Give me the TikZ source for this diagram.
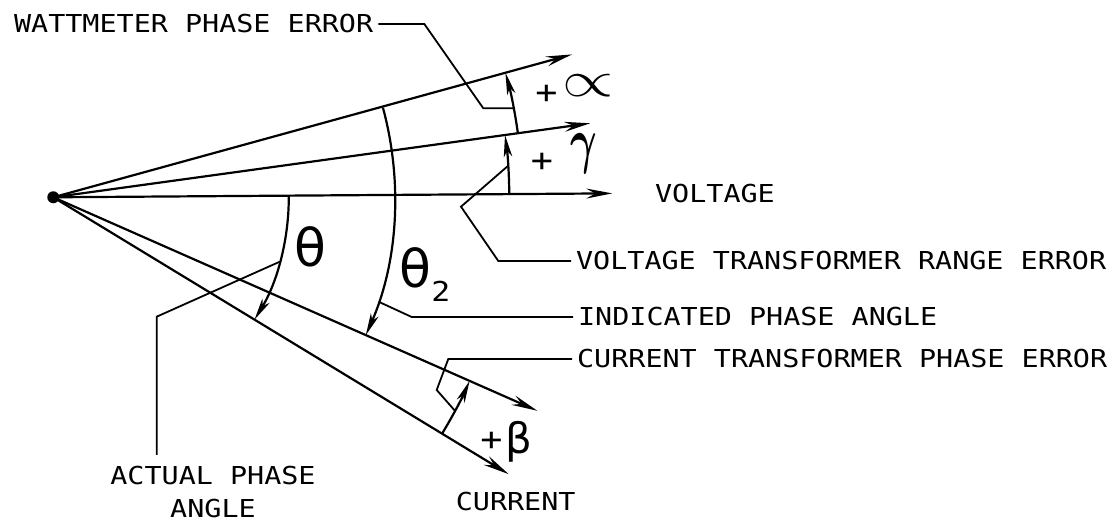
\documentclass[tikz,border=0pt]{standalone}
\usepackage{fontspec}
\usetikzlibrary{arrows.meta,calc}
\newfontfamily\plotfont[FakeStretch=1.15]{DejaVu Sans Mono}
\newfontfamily\greekfont{DejaVu Sans}

\begin{document}
\begin{tikzpicture}[x=0.5pt,y=0.5pt,line width=1.1pt,
    font=\plotfont\fontsize{12.35}{16.5}\selectfont,
    phasor/.style={-{Stealth[length=13pt,width=5pt,inset=4.5pt]}},
    anglearc/.style={-{Stealth[length=11pt,width=4.2pt,inset=3pt]}},
    leader/.style={line width=0.9pt},
    lbl/.style={inner sep=2pt}]
  \useasboundingbox (0,0) rectangle (1110,522);

  % Common origin
  \coordinate (O) at (53.3,324.7);
  \fill (O) circle[radius=6];

  % Phasors
  \coordinate (Vw) at ($(O)+(15.4:538)$);
  \coordinate (Vg) at ($(O)+(7.85:542)$);
  \coordinate (V) at ($(O)+(0.4:559)$);
  \coordinate (Ib) at ($(O)+(-23.8:529)$);
  \coordinate (I) at ($(O)+(-31.3:533)$);
  \foreach \tip in {Vw,Vg,V,Ib,I}
    \draw[phasor] (O) -- (\tip);

  \node (volt) at (715,328) {VOLTAGE};
  \node (cur) at (515.7,20) {CURRENT};

  % Angle arcs
  \draw[anglearc] ($(O)+(0.4:235.5)$) arc[start angle=0.4,end angle=-31.3,radius=235.5];
  \draw[anglearc] ($(O)+(15.2:341.6)$) arc[start angle=15.2,end angle=-23.8,radius=341.6];
  \draw[anglearc] ($(O)+(7.85:469)$) arc[start angle=7.85,end angle=15.4,radius=469];
  \draw[anglearc] ($(O)+(0.4:456)$) arc[start angle=0.4,end angle=7.85,radius=456];
  \draw[anglearc] ($(O)+(-31.3:455)$) arc[start angle=-31.3,end angle=-23.8,radius=455];

  % Angle names
  \node (theta) at (310,275) {\greekfont\fontsize{26}{26}\selectfont θ};
  \node (theta2) at (425,247)
    {\greekfont\fontsize{26}{26}\selectfont θ\raisebox{-7pt}{\plotfont\fontsize{13.7}{14}\selectfont 2}};
  \node (plusa) at (546.5,427.5) {\fontsize{16}{16}\selectfont +};
  \node (alpha) at (588,436) {\scalebox{2.75}[2.1]{$\propto$}};
  \node (plusg) at (542,360) {\fontsize{16}{16}\selectfont +};
  \node (gamma) at (583.5,368) {\scalebox{1.7}[2.6]{\boldmath$\gamma$}};
  \node (plusb) at (491.5,80.5) {\fontsize{16}{16}\selectfont +};
  \node (beta) at (519,80) {\greekfont\fontsize{21}{21}\selectfont β};

  % Wattmeter phase error
  \node[lbl,anchor=west] (wpe) at (9,498) {WATTMETER PHASE ERROR};
  \coordinate (wpeend) at ($(O)+(10.94:469)$);
  \draw[leader] (wpe.east) -- ++(46,0) -- (483.3,413.7) -- (wpeend);

  % Voltage transformer range error
  \node[lbl,anchor=west] (vtre) at (571,261) {VOLTAGE TRANSFORMER RANGE ERROR};
  \coordinate (vtreend) at ($(O)+(3.97:456)$);
  \draw[leader] (vtreend) -- (461,315.3) -- (498.3,261) -- (vtre.west);

  % Indicated phase angle
  \node[lbl,anchor=west] (ipa) at (573,205) {INDICATED PHASE ANGLE};
  \coordinate (ipaend) at ($(O)+(-17.8:341.6)$);
  \draw[leader] (ipaend) -- (411.7,205) -- (ipa.west);

  % Current transformer phase error
  \node[lbl,anchor=west] (ctpe) at (572,163) {CURRENT TRANSFORMER PHASE ERROR};
  \coordinate (ctpeend) at ($(O)+(-28:455)$);
  \draw[leader] (ctpeend) -- (436.7,132) -- (448.3,163) -- (ctpe.west);

  % Actual phase angle
  \node[lbl,anchor=north,align=center] (apa) at (213,61) {ACTUAL PHASE\\ANGLE};
  \coordinate (apaend) at ($(O)+(-15.87:235.5)$);
  \draw[leader,shorten >=3pt] (apaend) -- (156.7,205.3) -- (156.7,0 |- apa.north);
\end{tikzpicture}
\end{document}
